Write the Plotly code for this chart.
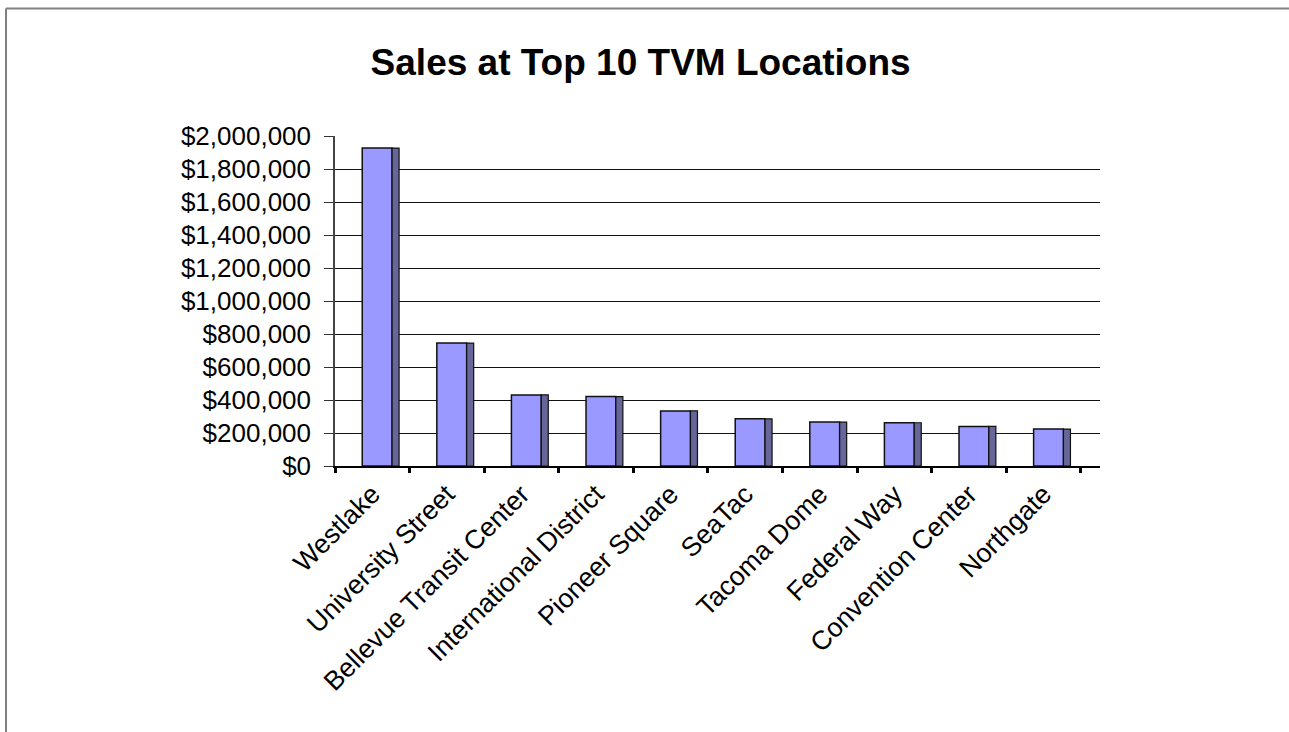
import plotly.graph_objects as go

locations = ["Westlake", "University Street", "Bellevue Transit Center",
             "International District", "Pioneer Square", "SeaTac",
             "Tacoma Dome", "Federal Way", "Convention Center", "Northgate"]
sales = [1927000, 745000, 431000, 421000, 334000, 286000, 266000, 262000, 240000, 224000]

y_ticks = list(range(0, 2000001, 200000))
y_tick_labels = ["$" + format(v, ",") for v in y_ticks]

FONT = "Arial, Liberation Sans, sans-serif"
FRONT = "#9999FF"
SIDE = "#666699"

fig = go.Figure()
# front face of each bar
fig.add_trace(go.Bar(
    x=locations, y=sales, width=0.4, offset=-0.135,
    marker=dict(color=FRONT, line=dict(color="#111111", width=1.5)),
    hoverinfo="x+y", showlegend=False,
))
# shaded side face for the 3-D look
fig.add_trace(go.Bar(
    x=locations, y=sales, width=0.094, offset=0.265,
    marker=dict(color=SIDE, line=dict(color="#111111", width=1.2)),
    hoverinfo="skip", showlegend=False,
))

fig.update_layout(
    width=1289, height=732,
    paper_bgcolor="white", plot_bgcolor="white",
    margin=dict(l=335, r=189, t=136, b=266, autoexpand=False),
    barmode="overlay",
    font=dict(family=FONT, color="black", size=26),
    title=dict(text="<b>Sales at Top 10 TVM Locations</b>",
               x=0.497, xanchor="center", y=1 - 62 / 732, yanchor="middle",
               font=dict(family=FONT, size=37, color="black")),
    xaxis=dict(
        type="category", range=[-0.5, 9.755],
        tickson="boundaries", ticks="outside", ticklen=5, tickwidth=3,
        tickcolor="black", tickangle=-45,
        showline=True, linecolor="black", linewidth=2,
        showgrid=False, zeroline=False,
        tickfont=dict(family=FONT, size=26.7, color="black"),
    ),
    yaxis=dict(
        range=[0, 2000000], tickmode="array",
        tickvals=y_ticks, ticktext=y_tick_labels,
        ticks="outside", ticklen=9, tickwidth=1, tickcolor="#333333",
        showline=True, linecolor="#444444", linewidth=1.5,
        showgrid=True, gridcolor="#111111", gridwidth=1.3,
        zeroline=False, ticklabelstandoff=8,
        tickfont=dict(family=FONT, size=26, color="black"),
    ),
    shapes=[
        dict(type="line", xref="paper", yref="paper",
             x0=(6 - 335) / 765, x1=(6 - 335) / 765,
             y0=(466 - 8.5) / 330, y1=-1.0,
             line=dict(color="#808080", width=2)),
        dict(type="line", xref="paper", yref="paper",
             x0=(6 - 335) / 765, x1=1.5,
             y0=(466 - 8.5) / 330, y1=(466 - 8.5) / 330,
             line=dict(color="#808080", width=2)),
    ],
)

fig.write_html("out.html")
